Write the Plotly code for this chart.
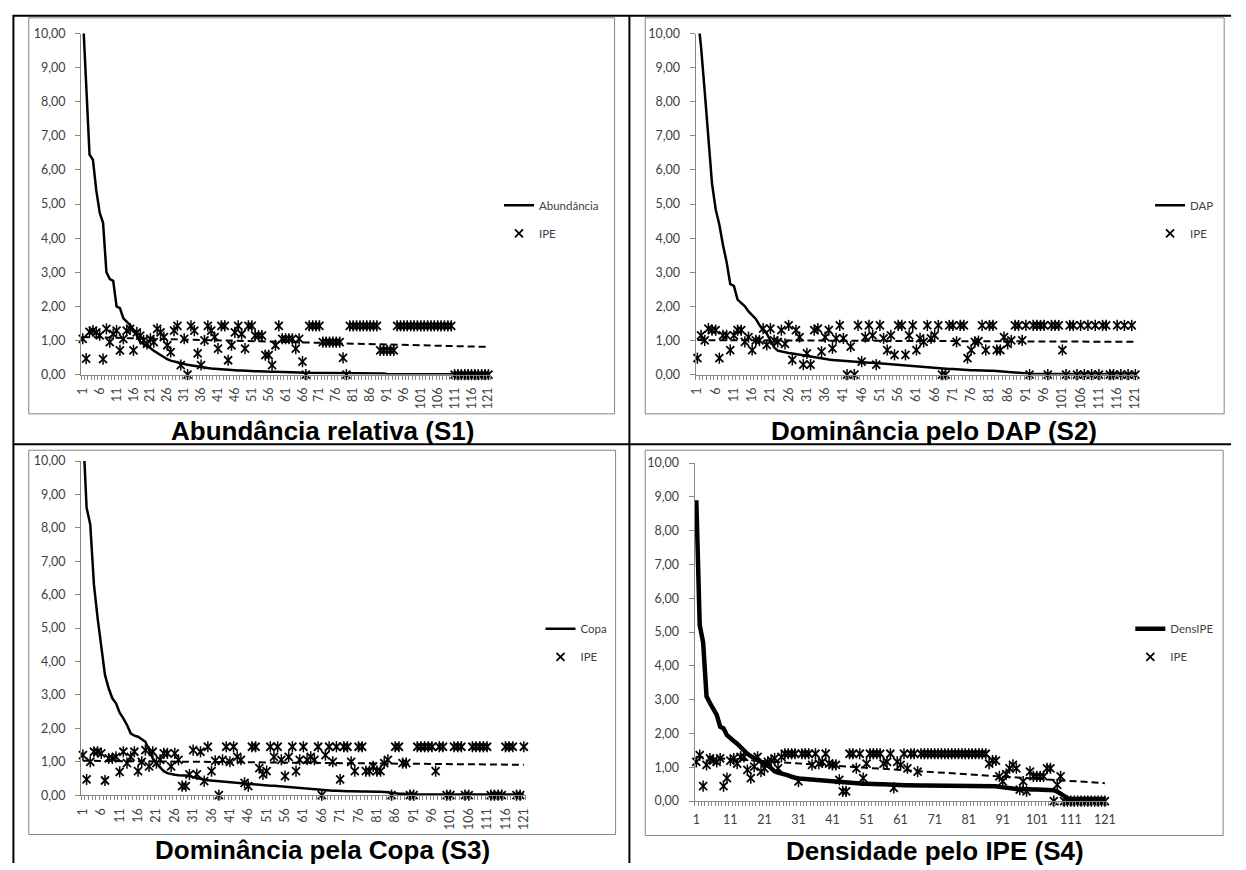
import plotly.graph_objects as go

W, H = 1246, 870


def px(x):
    return x / W


def py(y):
    return 1 - y / H


categories = list(range(1, 122))

# ---------------- S1 : Abundância relativa ----------------
abund_s1 = [
    10.6, 8.6, 6.45, 6.3, 5.4, 4.75, 4.45, 3.0, 2.8, 2.75,
    2.0, 1.95, 1.65, 1.55, 1.45, 1.3, 1.15, 0.95, 0.9, 0.85,
    0.78, 0.7, 0.64, 0.57, 0.5, 0.45, 0.41, 0.38, 0.36, 0.33,
    0.31, 0.29, 0.27, 0.25, 0.23, 0.22, 0.2, 0.19, 0.18, 0.17,
    0.16, 0.15, 0.14, 0.14, 0.13, 0.13, 0.12, 0.12, 0.11, 0.11,
    0.1, 0.1, 0.1, 0.09, 0.09, 0.09, 0.08, 0.08, 0.08, 0.07,
    0.07, 0.07, 0.06, 0.06, 0.06, 0.05, 0.05, 0.05, 0.05, 0.04,
    0.04, 0.04, 0.04, 0.04, 0.03, 0.03, 0.03, 0.03, 0.03, 0.03,
    0.03, 0.03, 0.03, 0.03, 0.03, 0.03, 0.03, 0.03, 0.03, 0.03,
    0.02, 0.02, 0.02, 0.02, 0.02, 0.02, 0.02, 0.02, 0.02, 0.02,
    0.02, 0.02, 0.02, 0.02, 0.02, 0.02, 0.02, 0.02, 0.02, 0.02,
    0.01, 0.01, 0.01, 0.01, 0.01, 0.01, 0.01, 0.01, 0.01, 0.01, 0.01,
]
ipe_s1 = [
    1.05, 0.47, 1.25, 1.29, 1.24, 1.15, 0.45, 1.34, 0.95, 1.19,
    1.29, 0.71, 1.05, 1.29, 1.34, 0.71, 1.24, 1.14, 1.0, 0.9,
    1.05, 0.95, 1.34, 1.24, 1.1, 0.86, 0.66, 1.29, 1.43, 0.28,
    1.05, 0.0, 1.43, 1.29, 0.62, 0.28, 1.0, 1.43, 1.29, 1.1,
    0.76, 1.43, 1.43, 0.42, 0.86, 1.24, 1.43, 1.19, 0.76, 1.43,
    1.43, 1.14, 1.14, 1.14, 0.57, 0.57, 0.28, 0.86, 1.43, 1.05,
    1.05, 1.05, 1.05, 0.76, 1.05, 0.38, 0.0, 1.43, 1.43, 1.43,
    1.43, 0.95, 0.95, 0.95, 0.95, 0.95, 0.95, 0.49, 0.0, 1.43,
    1.43, 1.43, 1.43, 1.43, 1.43, 1.43, 1.43, 1.43, 0.71, 0.71,
    0.71, 0.71, 0.71, 1.43, 1.43, 1.43, 1.43, 1.43, 1.43, 1.43,
    1.43, 1.43, 1.43, 1.43, 1.43, 1.43, 1.43, 1.43, 1.43, 1.43,
    0.0, 0.0, 0.0, 0.0, 0.0, 0.0, 0.0, 0.0, 0.0, 0.0, 0.0,
]
trend_s1 = [1.10, 0.81]

# ---------------- S2 : Dominância pelo DAP ----------------
dap_s2 = [
    10.6, 9.6, 8.3, 7.0, 5.6, 4.85, 4.4, 3.8, 3.3, 2.65,
    2.6, 2.2, 2.1, 2.0, 1.85, 1.75, 1.63, 1.45, 1.3, 1.2,
    1.0, 0.8, 0.7, 0.67, 0.65, 0.63, 0.62, 0.6, 0.59, 0.58,
    0.55, 0.52, 0.5, 0.48, 0.46, 0.45, 0.44, 0.43, 0.42, 0.41,
    0.4, 0.39, 0.38, 0.37, 0.37, 0.36, 0.36, 0.35, 0.35, 0.34,
    0.34, 0.33, 0.32, 0.31, 0.3, 0.29, 0.28, 0.27, 0.26, 0.25,
    0.24, 0.23, 0.22, 0.21, 0.2, 0.19, 0.18, 0.17, 0.17, 0.16,
    0.16, 0.15, 0.15, 0.14, 0.14, 0.13, 0.13, 0.12, 0.12, 0.12,
    0.11, 0.11, 0.1, 0.1, 0.09, 0.08, 0.06, 0.05, 0.04, 0.03,
    0.02, 0.02, 0.02, 0.02, 0.02, 0.02, 0.02, 0.02, 0.02, 0.02,
    0.02, 0.02, 0.02, 0.02, 0.02, 0.02, 0.02, 0.02, 0.02, 0.02,
    0.02, 0.02, 0.02, 0.02, 0.02, 0.02, 0.02, 0.02, 0.02, 0.02, 0.02,
]
ipe_s2 = [
    0.48, 1.15, 1.0, 1.35, 1.3, 1.3, 0.48, 1.15, 1.15, 0.72,
    1.15, 1.3, 1.3, 0.96, 1.1, 0.72, 1.0, 1.0, 1.35, 0.87,
    1.35, 1.0, 0.96, 1.3, 0.9, 1.44, 0.43, 1.3, 1.1, 0.29,
    0.62, 0.29, 1.3, 1.35, 0.67, 1.1, 1.3, 0.77, 1.06, 1.44,
    1.06, 0.0, 0.82, 0.0, 1.44, 0.38, 1.1, 1.44, 1.15, 0.29,
    1.44, 1.06, 0.72, 1.15, 0.58, 1.44, 1.44, 0.58, 1.15, 1.44,
    0.72, 1.06, 0.96, 1.44, 1.06, 1.15, 1.44, 0.0, 0.0, 1.44,
    1.44, 0.96, 1.44, 1.44, 0.48, 0.72, 0.96, 0.98, 1.44, 0.72,
    1.44, 1.44, 0.72, 0.72, 1.1, 0.9, 1.0, 1.44, 1.44, 1.0,
    1.44, 0.0, 1.44, 1.44, 1.44, 1.44, 0.0, 1.44, 1.44, 1.44,
    0.72, 0.0, 1.44, 1.44, 0.0, 1.44, 0.0, 1.44, 0.0, 1.44,
    0.0, 1.44, 1.44, 0.0, 0.0, 1.44, 0.0, 1.44, 0.0, 1.44, 0.0,
]
trend_s2 = [1.01, 0.96]

# ---------------- S3 : Dominância pela Copa ----------------
copa_s3 = [
    11.0, 8.6, 8.1, 6.3, 5.3, 4.4, 3.6, 3.2, 2.9, 2.75,
    2.47, 2.3, 2.1, 1.85, 1.78, 1.75, 1.68, 1.6, 1.35, 1.1,
    0.95, 0.82, 0.72, 0.66, 0.63, 0.61, 0.6, 0.6, 0.6, 0.58,
    0.54, 0.51, 0.49, 0.46, 0.45, 0.44, 0.43, 0.42, 0.41, 0.4,
    0.38, 0.37, 0.35, 0.34, 0.33, 0.32, 0.31, 0.3, 0.3, 0.29,
    0.29, 0.28, 0.28, 0.27, 0.27, 0.26, 0.26, 0.25, 0.24, 0.23,
    0.22, 0.2, 0.19, 0.18, 0.17, 0.16, 0.15, 0.14, 0.13, 0.13,
    0.12, 0.12, 0.12, 0.12, 0.11, 0.11, 0.11, 0.11, 0.1, 0.1,
    0.1, 0.1, 0.1, 0.09, 0.07, 0.05, 0.04, 0.04, 0.03, 0.03,
    0.02, 0.02, 0.02, 0.02, 0.02, 0.02, 0.02, 0.02, 0.02, 0.02,
    0.02, 0.02, 0.02, 0.02, 0.02, 0.02, 0.02, 0.02, 0.02, 0.02,
    0.02, 0.02, 0.02, 0.02, 0.02, 0.02, 0.02, 0.02, 0.02, 0.02, 0.02,
]
ipe_s3 = [
    1.2, 0.47, 1.0, 1.3, 1.3, 1.25, 0.44, 1.1, 1.1, 1.15,
    0.7, 1.3, 0.96, 1.15, 1.3, 0.72, 1.0, 1.35, 0.86, 1.3,
    0.96, 1.06, 1.25, 1.25, 0.86, 1.25, 1.06, 0.27, 0.27, 0.62,
    1.35, 0.62, 1.3, 0.42, 1.45, 0.72, 1.03, 0.0, 1.06, 1.45,
    1.0, 1.45, 1.15, 1.06, 0.37, 0.27, 1.45, 1.45, 0.81, 0.62,
    0.72, 1.45, 1.15, 1.45, 1.06, 0.57, 1.15, 1.45, 0.72, 1.06,
    1.45, 1.06, 1.15, 1.06, 1.45, 0.0, 1.2, 1.45, 1.0, 1.45,
    0.47, 1.45, 1.45, 1.0, 0.72, 1.45, 1.45, 0.72, 0.72, 0.86,
    0.72, 0.72, 0.96, 1.06, 0.0, 1.45, 1.45, 0.96, 0.96, 0.0,
    0.0, 1.45, 1.45, 1.45, 1.45, 1.45, 0.72, 1.45, 1.45, 0.0,
    0.0, 1.45, 1.45, 1.45, 0.0, 0.0, 1.45, 1.45, 1.45, 1.45,
    1.45, 0.0, 0.0, 0.0, 0.0, 1.45, 1.45, 1.45, 0.0, 0.0, 1.45,
]
trend_s3 = [1.03, 0.91]

# ---------------- S4 : Densidade pelo IPE ----------------
densipe_s4 = [
    8.9, 5.2, 4.7, 3.1, 2.9, 2.75, 2.55, 2.2, 2.15, 1.95,
    1.85, 1.78, 1.7, 1.6, 1.48, 1.4, 1.33, 1.28, 1.22, 1.18,
    1.12, 1.05, 0.97, 0.88, 0.84, 0.82, 0.8, 0.76, 0.72, 0.68,
    0.66, 0.66, 0.65, 0.65, 0.64, 0.63, 0.62, 0.61, 0.6, 0.59,
    0.58, 0.57, 0.56, 0.55, 0.54, 0.53, 0.52, 0.52, 0.52, 0.51,
    0.51, 0.5, 0.5, 0.5, 0.5, 0.5, 0.49, 0.49, 0.49, 0.48,
    0.48, 0.47, 0.47, 0.46, 0.46, 0.46, 0.46, 0.46, 0.46, 0.46,
    0.46, 0.46, 0.46, 0.46, 0.46, 0.46, 0.46, 0.46, 0.46, 0.46,
    0.46, 0.46, 0.46, 0.46, 0.46, 0.46, 0.46, 0.45, 0.44, 0.42,
    0.4, 0.39, 0.38, 0.37, 0.36, 0.35, 0.34, 0.34, 0.34, 0.34,
    0.34, 0.34, 0.34, 0.34, 0.34, 0.32, 0.28, 0.22, 0.14, 0.09,
    0.06, 0.06, 0.06, 0.06, 0.06, 0.06, 0.06, 0.06, 0.06, 0.06, 0.06,
]
ipe_s4 = [
    1.16, 1.36, 0.44, 1.07, 1.26, 1.2, 1.16, 1.26, 0.44, 0.68,
    1.2, 1.26, 1.11, 1.31, 1.31, 0.92, 0.68, 1.02, 1.31, 0.87,
    0.97, 1.16, 1.2, 1.26, 0.97, 1.31, 1.4, 1.4, 1.4, 1.4,
    0.58, 1.4, 1.4, 1.4, 1.07, 1.4, 1.11, 1.16, 1.4, 1.11,
    1.07, 1.07, 0.63, 0.29, 0.29, 1.4, 1.4, 0.97, 1.4, 0.68,
    1.11, 1.4, 1.4, 1.4, 1.4, 1.11, 1.16, 1.4, 0.39, 1.16,
    1.07, 1.4, 0.97, 1.4, 1.4, 0.87, 1.4, 1.4, 1.4, 1.4,
    1.4, 1.4, 1.4, 1.4, 1.4, 1.4, 1.4, 1.4, 1.4, 1.4,
    1.4, 1.4, 1.4, 1.4, 1.4, 1.4, 1.11, 1.2, 1.2, 0.73,
    0.58, 0.8, 0.97, 1.07, 0.97, 0.34, 0.58, 0.29, 0.87, 0.73,
    0.73, 0.73, 0.73, 0.97, 0.97, 0.0, 0.48, 0.73, 0.0, 0.0,
    0.0, 0.0, 0.0, 0.0, 0.0, 0.0, 0.0, 0.0, 0.0, 0.0, 0.0,
]
trend_s4 = [1.31, 0.53]

y_ticks = [0, 1, 2, 3, 4, 5, 6, 7, 8, 9, 10]

for arr in (abund_s1, ipe_s1, dap_s2, ipe_s2, copa_s3, ipe_s3, densipe_s4, ipe_s4):
    assert len(arr) == len(categories), len(arr)

TXT = "#404040"
AXC = "#868686"
TICKFONT = dict(family="Lato", size=12.5, color=TXT)

panels = [
    dict(name="Abundância", main=abund_s1, ipe=ipe_s1, trend=trend_s1,
         title="Abundância relativa (S1)", xdom=(76, 490), ydom=(26, 373),
         frame=(23, 10, 616, 413), leg=(499, 186), step=5, angle=-90, lw=2.5,
         tpos=(320, 430)),
    dict(name="DAP", main=dap_s2, ipe=ipe_s2, trend=trend_s2,
         title="Dominância pelo DAP (S2)", xdom=(698, 1145), ydom=(26, 373),
         frame=(647, 10, 1233, 413), leg=(1158, 186), step=5, angle=-90, lw=2.5,
         tpos=(939, 430)),
    dict(name="Copa", main=copa_s3, ipe=ipe_s3, trend=trend_s3,
         title="Dominância pela Copa (S3)", xdom=(76, 526), ydom=(461, 801),
         frame=(23, 450, 617, 841), leg=(541, 617), step=5, angle=-90, lw=2.5,
         tpos=(320, 857)),
    dict(name="DensIPE", main=densipe_s4, ipe=ipe_s4, trend=trend_s4,
         title="Densidade pelo IPE (S4)", xdom=(697, 1114), ydom=(463, 807),
         frame=(647, 450, 1232, 842), leg=(1138, 617), step=10, angle=0, lw=4.5,
         tpos=(940, 858)),
]

fig = go.Figure()
layout = dict(
    width=W, height=H, margin=dict(l=0, r=0, t=0, b=0),
    paper_bgcolor="white", plot_bgcolor="white",
    separators=",.", showlegend=True,
    font=dict(family="Lato", color=TXT, size=11.5),
)
shapes = []
annotations = []

for i, p in enumerate(panels, start=1):
    sfx = "" if i == 1 else str(i)
    xa, ya = "x" + sfx, "y" + sfx
    leg = "legend" + sfx

    fig.add_trace(go.Scatter(
        x=categories, y=p["main"], mode="lines", name=p["name"],
        line=dict(color="black", width=p["lw"]), xaxis=xa, yaxis=ya,
        legend=leg, legendgroup=f"m{i}", hoverinfo="skip"))
    fig.add_trace(go.Scatter(
        x=categories, y=p["ipe"], mode="markers", name="IPE",
        marker=dict(symbol="x-thin-open", size=8, color="black",
                    line=dict(color="black", width=1.8)),
        xaxis=xa, yaxis=ya, legend=leg, legendgroup=f"i{i}",
        cliponaxis=False, hoverinfo="skip"))
    fig.add_trace(go.Scatter(
        x=categories, y=p["ipe"], mode="markers", name="IPE",
        marker=dict(symbol="line-ns-open", size=8, color="black",
                    line=dict(color="black", width=1.5)),
        xaxis=xa, yaxis=ya, legend=leg, legendgroup=f"i{i}", showlegend=False,
        cliponaxis=False, hoverinfo="skip"))
    fig.add_trace(go.Scatter(
        x=[categories[0], categories[-1]], y=p["trend"], mode="lines",
        line=dict(color="black", width=2, dash="7px,4px"), showlegend=False,
        xaxis=xa, yaxis=ya, hoverinfo="skip"))

    layout["xaxis" + sfx] = dict(
        domain=[px(p["xdom"][0]), px(p["xdom"][1])], anchor=ya,
        range=[0.5, 121.5], tickmode="linear", tick0=1, dtick=p["step"],
        ticks="", showline=True, linecolor=AXC, linewidth=1,
        tickangle=p["angle"], tickfont=TICKFONT, ticklabelstandoff=7,
        showgrid=False, zeroline=False, fixedrange=True,
        minor=dict(ticks="outside", ticklen=4, tickcolor=AXC, tickwidth=1,
                   dtick=1, tick0=0.5, showgrid=False),
    )
    layout["yaxis" + sfx] = dict(
        domain=[py(p["ydom"][1]), py(p["ydom"][0])], anchor=xa,
        range=[0, 10], tickmode="array", tickvals=y_ticks, tickformat=".2f",
        ticks="outside", ticklen=5, tickcolor=AXC, showline=True,
        linecolor=AXC, linewidth=1, tickfont=TICKFONT, ticklabelstandoff=7,
        showgrid=False, zeroline=False, fixedrange=True,
    )
    layout[leg] = dict(
        x=px(p["leg"][0]), y=py(p["leg"][1]), xanchor="left", yanchor="top",
        bgcolor="rgba(0,0,0,0)", font=dict(family="Lato", size=11.5, color=TXT),
        tracegroupgap=9, itemwidth=30, traceorder="grouped",
    )
    fx0, fy0, fx1, fy1 = p["frame"]
    shapes.append(dict(type="rect", xref="paper", yref="paper",
                       x0=px(fx0), x1=px(fx1), y0=py(fy1), y1=py(fy0),
                       line=dict(color=AXC, width=1), layer="below"))
    annotations.append(dict(
        text="<b>" + p["title"] + "</b>", xref="paper", yref="paper",
        x=px(p["tpos"][0]), y=py(p["tpos"][1]), xanchor="center", yanchor="middle",
        showarrow=False, font=dict(family="Liberation Sans", size=26, color="black")))

# table borders (black)
for (x0, y0, x1, y1) in [(7, 8, 1240, 8), (7.5, 7, 7.5, 870), (631, 7, 631, 870),
                         (7, 444, 1240, 444)]:
    shapes.append(dict(type="line", xref="paper", yref="paper",
                       x0=px(x0), x1=px(x1), y0=py(y0), y1=py(y1),
                       line=dict(color="black", width=2)))

layout["shapes"] = shapes
layout["annotations"] = annotations
fig.update_layout(**layout)
fig.write_html("out.html")
